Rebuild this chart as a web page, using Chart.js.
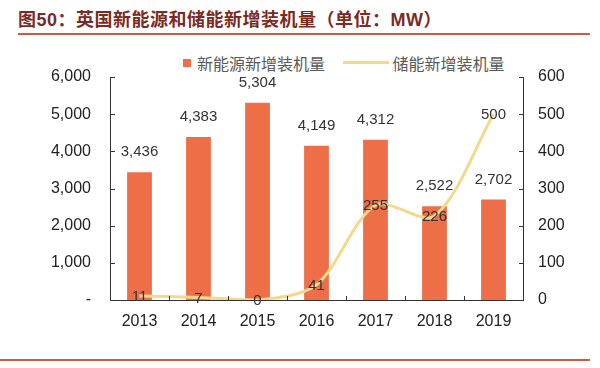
<!DOCTYPE html>
<html>
<head>
<meta charset="utf-8">
<script src="https://cdn.jsdelivr.net/npm/chart.js@4/dist/chart.umd.min.js"></script>
<style>
  body { margin: 0; background: #fff; width: 600px; height: 368px; position: relative; overflow: hidden;
         font-family: "Liberation Sans", "Noto Sans CJK SC", sans-serif; }
  #title { position: absolute; left: 18px; top: 5px; font-size: 18px; font-weight: bold; color: #7d2a22;
           letter-spacing: 0.5px;
           font-family: "Liberation Sans", "Noto Sans CJK SC", sans-serif; white-space: nowrap; }
  .rule { position: absolute; left: 18px; width: 572px; height: 2px; background: #cf5a3c; }
  #legend { position: absolute; top: 48px; left: 183px; font-size: 16px; color: #595959;
            font-family: "Noto Sans CJK SC", sans-serif; white-space: nowrap; }
  #legend span { display: inline-block; vertical-align: middle; }
  #wrap { position: absolute; left: 0; top: 40px; width: 600px; height: 300px; }
</style>
</head>
<body>
<div id="title">图50：英国新能源和储能新增装机量（单位：MW）</div>
<div class="rule" style="top:33px"></div>
<div class="rule" style="top:359px; left:0; width:590px"></div>
<div id="legend">
  <span style="width:8px;height:8px;background:#ee6e48;margin-right:6px"></span><span>新能源新增装机量</span>
  <span style="width:46px;height:3px;background:#f3d98c;margin:0 4px 0 14px"></span><span>储能新增装机量</span>
</div>
<div id="wrap"><canvas id="chart" width="600" height="300"></canvas></div>
<script>
const years = ['2013', '2014', '2015', '2016', '2017', '2018', '2019'];
const newEnergy = [3436, 4383, 5304, 4149, 4312, 2522, 2702];
const storage = [11, 7, 0, 41, 255, 226, 500];
const leftTicks = [0, 1000, 2000, 3000, 4000, 5000, 6000];
const rightTicks = [0, 100, 200, 300, 400, 500, 600];

const fmt = v => v.toLocaleString('en-US');

// value labels + inward tick marks
const extras = {
  id: 'extras',
  afterDatasetsDraw(chart) {
    const ctx = chart.ctx;
    const y = chart.scales.y, y2 = chart.scales.y2, x = chart.scales.x;
    ctx.save();
    ctx.strokeStyle = '#333';
    ctx.lineWidth = 1;
    ctx.beginPath();
    leftTicks.forEach(v => { const p = Math.round(y.getPixelForValue(v)) + 0.5; ctx.moveTo(y.right, p); ctx.lineTo(y.right + 5, p); });
    rightTicks.forEach(v => { const p = Math.round(y2.getPixelForValue(v)) + 0.5; ctx.moveTo(y2.left, p); ctx.lineTo(y2.left - 4, p); });
    for (let i = 1; i < years.length; i++) {
      const p = Math.round((x.getPixelForValue(i - 1) + x.getPixelForValue(i)) / 2) + 0.5;
      ctx.moveTo(p, x.top); ctx.lineTo(p, x.top - 4);
    }
    ctx.stroke();

    ctx.fillStyle = '#333';
    ctx.textAlign = 'center';
    ctx.textBaseline = 'middle';
    ctx.font = '15px "Liberation Sans", Arial, sans-serif';
    chart.getDatasetMeta(0).data.forEach((el, i) => {
      ctx.fillText(fmt(storage[i]), el.x, el.y + 1);
    });
    chart.getDatasetMeta(1).data.forEach((el, i) => {
      ctx.fillText(fmt(newEnergy[i]), el.x, el.y - 20);
    });
    ctx.restore();
  }
};

new Chart(document.getElementById('chart'), {
  data: {
    labels: years,
    datasets: [
      {
        type: 'line',
        label: '储能新增装机量',
        data: storage,
        yAxisID: 'y2',
        borderColor: '#f3d98c',
        borderWidth: 3,
        pointRadius: 0,
        tension: 0.3,
        order: 0
      },
      {
        type: 'bar',
        label: '新能源新增装机量',
        data: newEnergy,
        yAxisID: 'y',
        backgroundColor: '#ee6e48',
        barPercentage: 0.42,
        categoryPercentage: 1,
        order: 1
      }
    ]
  },
  options: {
    responsive: false,
    animation: false,
    layout: { padding: { top: 37, left: 0, right: 0, bottom: 0 } },
    plugins: { legend: { display: false }, tooltip: { enabled: false } },
    scales: {
      x: {
        offset: true,
        grid: { display: false, drawTicks: false },
        border: { color: '#333', width: 1 },
        ticks: { color: '#222', maxRotation: 0, font: { size: 16, family: '"Liberation Sans", Arial' }, padding: 12 },
        afterFit: s => { s.height = 40; }
      },
      y: {
        position: 'left',
        min: 0, max: 6000,
        afterBuildTicks: s => { s.ticks = leftTicks.map(v => ({ value: v })); },
        grid: { display: false, drawTicks: false },
        border: { color: '#333', width: 1 },
        ticks: {
          color: '#222', padding: 19,
          font: { size: 16, family: '"Liberation Sans", Arial' },
          callback: v => v === 0 ? '-' : fmt(v)
        },
        afterFit: s => { s.width = 110; }
      },
      y2: {
        position: 'right',
        min: 0, max: 600,
        afterBuildTicks: s => { s.ticks = rightTicks.map(v => ({ value: v })); },
        grid: { display: false, drawTicks: false },
        border: { color: '#333', width: 1 },
        ticks: {
          color: '#222', padding: 15,
          font: { size: 16, family: '"Liberation Sans", Arial' }
        },
        afterFit: s => { s.width = 77; }
      }
    }
  },
  plugins: [extras]
});
</script>
</body>
</html>
